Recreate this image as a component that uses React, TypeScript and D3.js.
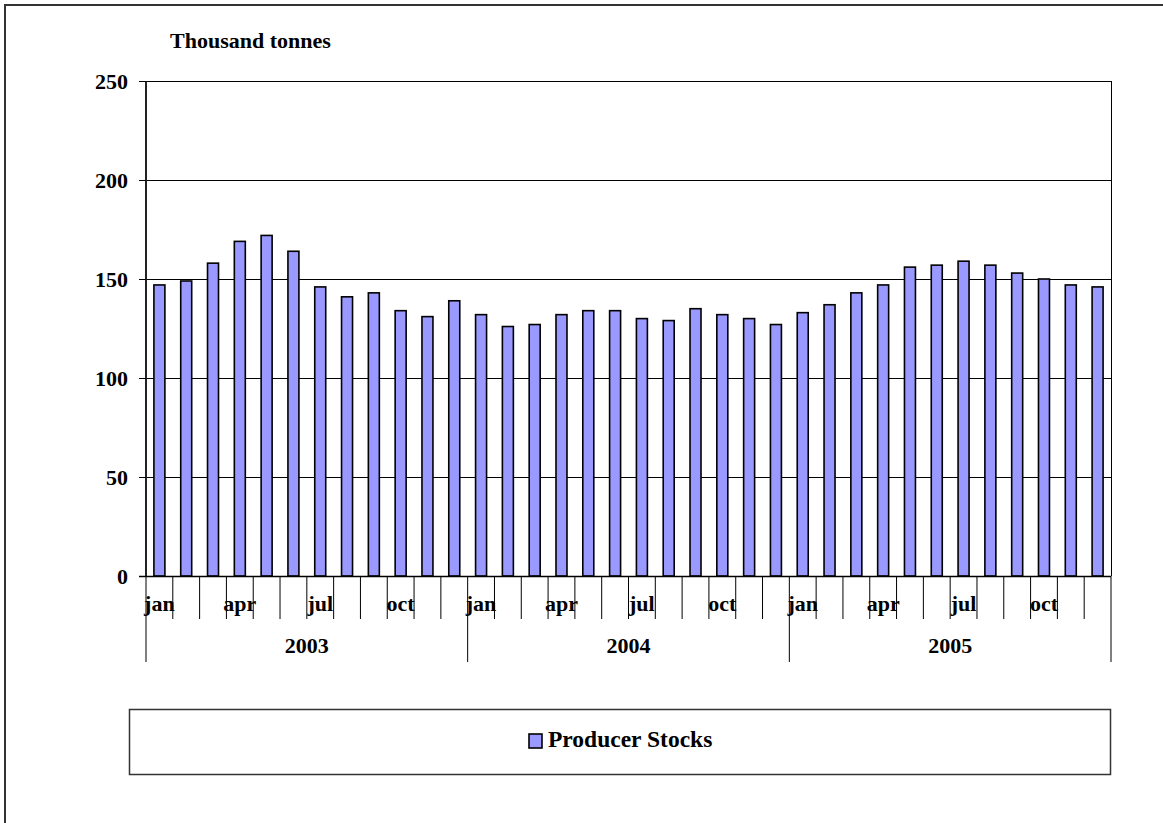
import * as d3 from "d3";
import { useEffect, useRef } from "react";

const years = ["2003", "2004", "2005"];
const months = ["jan", "feb", "mar", "apr", "may", "jun", "jul", "aug", "sep", "oct", "nov", "dec"];
const monthLabels = ["jan", "", "", "apr", "", "", "jul", "", "", "oct", "", ""];

// Producer stocks, thousand tonnes
const stocks2003 = [147, 149, 158, 169, 172, 164, 146, 141, 143, 134, 131, 139];
const stocks2004 = [132, 126, 127, 132, 134, 134, 130, 129, 135, 132, 130, 127];
const stocks2005 = [133, 137, 143, 147, 156, 157, 159, 157, 153, 150, 147, 146];

const yTicks = [0, 50, 100, 150, 200, 250];

function App() {
  const ref = useRef<SVGSVGElement>(null);

  useEffect(() => {
    const width = 1163;
    const height = 823;
    const left = 146;
    const right = 1111;
    const top = 81;
    const bottom = 576;
    const font = "'Liberation Serif', 'Times New Roman', serif";

    const data = [stocks2003, stocks2004, stocks2005].flatMap((vals, yi) =>
      vals.map((v, mi) => ({ key: `${years[yi]}-${months[mi]}`, month: mi, year: yi, value: v }))
    );

    const x = d3
      .scaleBand<string>()
      .domain(data.map((d) => d.key))
      .range([left, right])
      .paddingInner(0.59)
      .paddingOuter(0.295);
    const step = x.step();

    const y = d3.scaleLinear().domain([0, 250]).range([bottom, top]);

    const svg = d3.select(ref.current).attr("width", width).attr("height", height);
    svg.selectAll("*").remove();

    svg.append("rect").attr("width", width).attr("height", height).attr("fill", "#fff");

    // outer chart border
    svg
      .append("rect")
      .attr("x", 5)
      .attr("y", 5)
      .attr("width", 1300)
      .attr("height", 1000)
      .attr("fill", "none")
      .attr("stroke", "#333")
      .attr("stroke-width", 2);

    // gridlines
    svg
      .append("g")
      .selectAll("line")
      .data(yTicks.slice(1))
      .join("line")
      .attr("x1", left)
      .attr("x2", right)
      .attr("y1", (d) => Math.round(y(d)) + 0.5)
      .attr("y2", (d) => Math.round(y(d)) + 0.5)
      .attr("stroke", "#000")
      .attr("stroke-width", 1.2);

    // plot right edge
    svg
      .append("line")
      .attr("x1", right + 0.5)
      .attr("x2", right + 0.5)
      .attr("y1", top)
      .attr("y2", bottom)
      .attr("stroke", "#000");

    // bars
    svg
      .append("g")
      .selectAll("rect")
      .data(data)
      .join("rect")
      .attr("x", (d) => x(d.key) ?? 0)
      .attr("y", (d) => y(d.value))
      .attr("width", x.bandwidth())
      .attr("height", (d) => y(0) - y(d.value))
      .attr("fill", "#9999FF")
      .attr("stroke", "#000")
      .attr("stroke-width", 1.6);

    // y axis
    const yAxis = svg.append("g");
    yAxis
      .append("line")
      .attr("x1", left)
      .attr("x2", left)
      .attr("y1", top)
      .attr("y2", bottom)
      .attr("stroke", "#222")
      .attr("stroke-width", 2);
    yAxis
      .selectAll("line.tick")
      .data(yTicks)
      .join("line")
      .attr("class", "tick")
      .attr("x1", left - 7)
      .attr("x2", left)
      .attr("y1", (d) => Math.round(y(d)) + 0.5)
      .attr("y2", (d) => Math.round(y(d)) + 0.5)
      .attr("stroke", "#000");
    yAxis
      .selectAll("text")
      .data(yTicks)
      .join("text")
      .attr("x", 128)
      .attr("y", (d) => y(d) + 7.5)
      .attr("text-anchor", "end")
      .style("font", `bold 22px ${font}`)
      .text((d) => d);

    // x axis baseline
    svg
      .append("line")
      .attr("x1", left - 7)
      .attr("x2", right)
      .attr("y1", bottom + 0.5)
      .attr("y2", bottom + 0.5)
      .attr("stroke", "#000")
      .attr("stroke-width", 1.4);

    // category boundary ticks
    const bounds = d3.range(data.length + 1);
    svg
      .append("g")
      .selectAll("line")
      .data(bounds)
      .join("line")
      .attr("x1", (i) => left + i * step)
      .attr("x2", (i) => left + i * step)
      .attr("y1", bottom)
      .attr("y2", (i) => (i % 12 === 0 ? 662 : 619))
      .attr("stroke", "#000")
      .attr("stroke-width", 1);

    // month labels
    svg
      .append("g")
      .selectAll("text")
      .data(data.filter((d) => monthLabels[d.month] !== ""))
      .join("text")
      .attr("x", (d) => (x(d.key) ?? 0) + x.bandwidth() / 2)
      .attr("y", 611)
      .attr("text-anchor", "middle")
      .style("font", `bold 22px ${font}`)
      .text((d) => monthLabels[d.month]);

    // year labels
    svg
      .append("g")
      .selectAll("text")
      .data(years)
      .join("text")
      .attr("x", (_, i) => left + (i * 12 + 6) * step)
      .attr("y", 653)
      .attr("text-anchor", "middle")
      .style("font", `bold 22px ${font}`)
      .text((d) => d);

    // axis title
    svg
      .append("text")
      .attr("x", 170)
      .attr("y", 48)
      .style("font", `bold 22px ${font}`)
      .text("Thousand tonnes");

    // legend
    const legend = svg.append("g");
    legend
      .append("rect")
      .attr("x", 129.5)
      .attr("y", 709.5)
      .attr("width", 981)
      .attr("height", 65)
      .attr("fill", "#fff")
      .attr("stroke", "#333")
      .attr("stroke-width", 1.5);
    legend
      .append("rect")
      .attr("x", 529)
      .attr("y", 734)
      .attr("width", 13)
      .attr("height", 14)
      .attr("fill", "#9999FF")
      .attr("stroke", "#000")
      .attr("stroke-width", 1.6);
    legend
      .append("text")
      .attr("x", 548)
      .attr("y", 747)
      .style("font", `bold 23.5px ${font}`)
      .text("Producer Stocks");

    return () => {
      d3.select(ref.current).selectAll("*").remove();
    };
  }, []);

  return (
    <div style={{ position: "absolute", left: 0, top: 0 }}>
      <svg ref={ref}></svg>
    </div>
  );
}

export default App;
